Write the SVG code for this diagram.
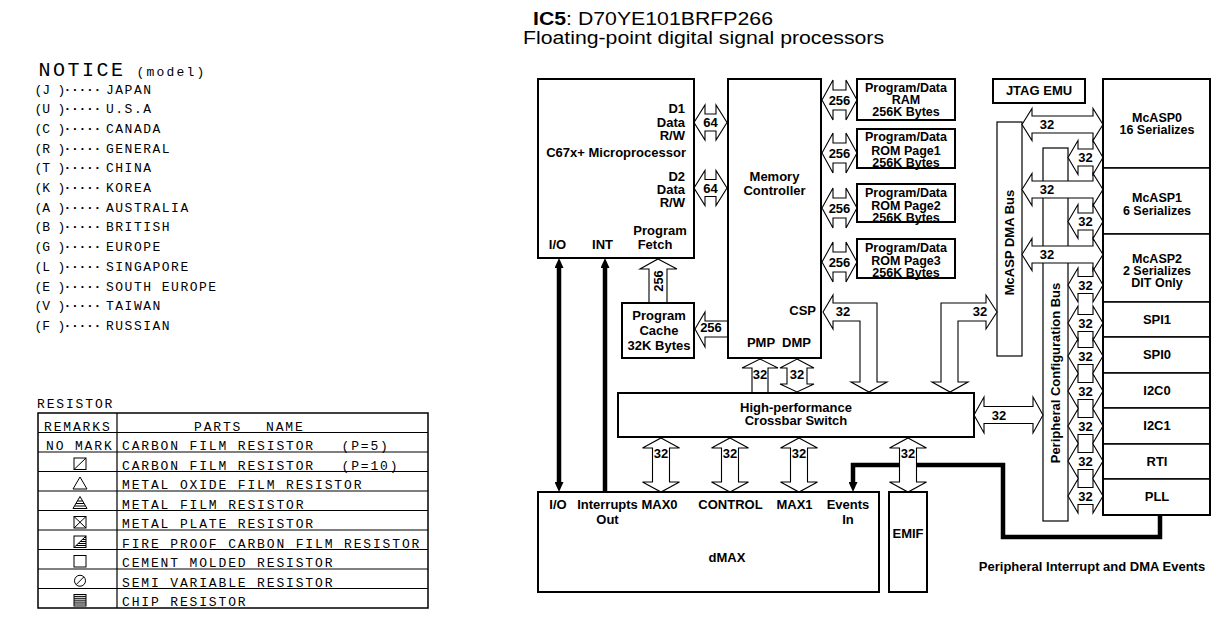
<svg xmlns="http://www.w3.org/2000/svg" width="1212" height="624" viewBox="0 0 1212 624">
<style>
.box{fill:#fff;stroke:#000;stroke-width:2}
.bar{fill:#fff;stroke:#000;stroke-width:1.2}
.row{fill:#fff;stroke:#000;stroke-width:1.5}
.frame{fill:none;stroke:#000;stroke-width:2}
.arr{fill:#fff;stroke:#000;stroke-width:1.1;stroke-linejoin:miter}
.thick{fill:none;stroke:#000;stroke-width:4.5;stroke-linejoin:miter}
.t{font-family:"Liberation Sans",Arial,Helvetica,sans-serif;font-weight:bold;font-size:13px;fill:#000}
.s{font-size:12.5px}
.m{text-anchor:middle}
.e{text-anchor:end}
.ttl{font-family:"Liberation Sans",Arial,Helvetica,sans-serif;font-size:17.5px;fill:#000}
.cad{font-family:"Liberation Mono","DejaVu Sans Mono",monospace;fill:#000}
.c1{font-size:13px;letter-spacing:1.5px}
.cp{font-size:13px;letter-spacing:-0.1px}
.cd{font-size:13px;letter-spacing:-0.3px;font-weight:bold}
.tb{font-size:13px;letter-spacing:1.85px}
.ln{stroke:#000;stroke-width:1.2;fill:none}
.sym{fill:none;stroke:#000;stroke-width:1}
</style>
<defs>
<marker id="tip" viewBox="0 0 10 9" refX="0" refY="4.5" markerWidth="10" markerHeight="9" markerUnits="userSpaceOnUse" orient="auto-start-reverse"><path d="M0,0 L10,4.5 L0,9 Z" fill="#000"/></marker>
<polygon id="sa" class="arr" points="0,0 10,-17 10,-8.5 25,-8.5 25,-17 35,0 25,17 25,8.5 10,8.5 10,17"/>
<polygon id="la" class="arr" points="0,0 10,-16 10,-8.5 71,-8.5 71,-16 81,0 71,16 71,8.5 10,8.5 10,16"/>
<polygon id="a256" class="arr" points="0,0 11,-20 11,-10 24,-10 24,-20 35,0 24,20 24,10 11,10 11,20"/>
<polygon id="a64" class="arr" points="0,0 11,-17.5 11,-8.5 22,-8.5 22,-17.5 33,0 22,17.5 22,8.5 11,8.5 11,17.5"/>
<polygon id="v32" class="arr" points="0,0 18.5,10 8.5,10 8.5,44 18.5,44 0,54 -18.5,44 -8.5,44 -8.5,10 -18.5,10"/>
</defs>
<rect width="1212" height="624" fill="#fff"/>

<!-- Notice list -->
<g id="notice">
<text class="cad" x="38.5" y="76" style="font-size:20px;letter-spacing:2.5px">NOTICE</text>
<text class="cad" x="136.5" y="76" style="font-size:13px;letter-spacing:2.2px">(model)</text>
<text class="cad c1" y="93.5"><tspan class="cp" x="34.5">(J )</tspan><tspan class="cd" x="63.5">·····</tspan><tspan x="106">JAPAN</tspan></text>
<text class="cad c1" y="113.2"><tspan class="cp" x="34.5">(U )</tspan><tspan class="cd" x="63.5">·····</tspan><tspan x="106">U.S.A</tspan></text>
<text class="cad c1" y="132.9"><tspan class="cp" x="34.5">(C )</tspan><tspan class="cd" x="63.5">·····</tspan><tspan x="106">CANADA</tspan></text>
<text class="cad c1" y="152.6"><tspan class="cp" x="34.5">(R )</tspan><tspan class="cd" x="63.5">·····</tspan><tspan x="106">GENERAL</tspan></text>
<text class="cad c1" y="172.3"><tspan class="cp" x="34.5">(T )</tspan><tspan class="cd" x="63.5">·····</tspan><tspan x="106">CHINA</tspan></text>
<text class="cad c1" y="192"><tspan class="cp" x="34.5">(K )</tspan><tspan class="cd" x="63.5">·····</tspan><tspan x="106">KOREA</tspan></text>
<text class="cad c1" y="211.7"><tspan class="cp" x="34.5">(A )</tspan><tspan class="cd" x="63.5">·····</tspan><tspan x="106">AUSTRALIA</tspan></text>
<text class="cad c1" y="231.4"><tspan class="cp" x="34.5">(B )</tspan><tspan class="cd" x="63.5">·····</tspan><tspan x="106">BRITISH</tspan></text>
<text class="cad c1" y="251.1"><tspan class="cp" x="34.5">(G )</tspan><tspan class="cd" x="63.5">·····</tspan><tspan x="106">EUROPE</tspan></text>
<text class="cad c1" y="270.8"><tspan class="cp" x="34.5">(L )</tspan><tspan class="cd" x="63.5">·····</tspan><tspan x="106">SINGAPORE</tspan></text>
<text class="cad c1" y="290.5"><tspan class="cp" x="34.5">(E )</tspan><tspan class="cd" x="63.5">·····</tspan><tspan x="106">SOUTH EUROPE</tspan></text>
<text class="cad c1" y="310.2"><tspan class="cp" x="34.5">(V )</tspan><tspan class="cd" x="63.5">·····</tspan><tspan x="106">TAIWAN</tspan></text>
<text class="cad c1" y="329.9"><tspan class="cp" x="34.5">(F )</tspan><tspan class="cd" x="63.5">·····</tspan><tspan x="106">RUSSIAN</tspan></text>
</g>

<!-- Resistor table -->
<g id="resistor-table">
<text class="cad tb" x="37" y="408">RESISTOR</text>
<rect x="38" y="413" width="390" height="195" fill="none" stroke="#000" stroke-width="1.5"/>
<path class="ln" d="M117,413 V608 M38,432.5 H428 M38,452 H428 M38,471.5 H428 M38,491 H428 M38,510.5 H428 M38,530 H428 M38,549.5 H428 M38,569 H428 M38,588.5 H428"/>
<text class="cad tb" x="44" y="430.5">REMARKS</text>
<text class="cad tb" y="430.5"><tspan x="194">PARTS</tspan><tspan x="266">NAME</tspan></text>
<text class="cad tb" x="46" y="450">NO MARK</text>
<text class="cad tb" y="450"><tspan x="122">CARBON FILM RESISTOR</tspan><tspan x="341.5">(P=5)</tspan></text>
<text class="cad tb" y="469.5"><tspan x="122">CARBON FILM RESISTOR</tspan><tspan x="341.5">(P=10)</tspan></text>
<text class="cad tb" x="122" y="489">METAL OXIDE FILM RESISTOR</text>
<text class="cad tb" x="122" y="508.5">METAL FILM RESISTOR</text>
<text class="cad tb" x="122" y="528">METAL PLATE RESISTOR</text>
<text class="cad tb" x="122" y="547.5">FIRE PROOF CARBON FILM RESISTOR</text>
<text class="cad tb" x="122" y="567">CEMENT MOLDED RESISTOR</text>
<text class="cad tb" x="122" y="586.5">SEMI VARIABLE RESISTOR</text>
<text class="cad tb" x="122" y="606">CHIP RESISTOR</text>
<!-- symbols -->
<rect class="sym" x="74" y="458" width="12" height="11.5"/>
<path class="sym" d="M74,469.5 L86,458"/>
<polygon class="sym" points="80,477 73,489 87,489"/>
<polygon class="sym" points="80,496.5 73,508.5 87,508.5"/>
<path class="sym" d="M74.5,506 H85.5 M75.9,503.5 H84.1 M77.4,501 H82.6"/>
<rect class="sym" x="74" y="516.5" width="12" height="11.5"/>
<path class="sym" d="M74,528 L86,516.5 M74,516.5 L86,528"/>
<rect class="sym" x="74" y="536" width="12" height="11.5"/>
<path class="sym" d="M74,547.5 L86,536 M76.1,545.5 H86 M78.2,543.5 H86 M80.3,541.5 H86 M82.3,539.5 H86 M84.4,537.5 H86"/>
<rect class="sym" x="74" y="555.5" width="12" height="11.5"/>
<circle class="sym" cx="80" cy="580.75" r="5.5"/>
<path class="sym" d="M76.1,584.65 L83.9,576.85"/>
<rect class="sym" x="74" y="594.5" width="12" height="11.5"/>
<path class="sym" d="M74,596.4 H86 M74,598.3 H86 M74,600.2 H86 M74,602.1 H86 M74,604 H86"/>
</g>

<!-- Title -->
<g id="title">
<text class="ttl" x="533" y="25" textLength="240" lengthAdjust="spacingAndGlyphs"><tspan font-weight="bold">IC5</tspan>: D70YE101BRFP266</text>
<text class="ttl" x="523" y="44" textLength="361" lengthAdjust="spacingAndGlyphs">Floating-point digital signal processors</text>
</g>

<!-- Buses (drawn beneath connectors) -->
<g id="node-mcasp-dma-bus">
<rect class="bar" x="997" y="122" width="25" height="234"/>
<text class="t m" transform="translate(1014,242.5) rotate(-90)">McASP DMA Bus</text>
</g>
<g id="node-periph-config-bus">
<rect class="bar" x="1043" y="148" width="25" height="373"/>
<text class="t m" transform="translate(1060,373) rotate(-90)">Peripheral Configuration Bus</text>
</g>

<!-- Connectors -->
<g id="connectors">
<path class="thick" d="M559,268 V482" marker-start="url(#tip)" marker-end="url(#tip)"/>
<path class="thick" d="M605,268 V493" marker-start="url(#tip)"/>
<path class="thick" d="M1160,514 V537 H1003 V465 H853 V482" marker-end="url(#tip)"/>

<use href="#a64" x="694" y="122.5"/>
<use href="#a64" x="694" y="188"/>
<text class="t m" x="710.5" y="127">64</text>
<text class="t m" x="710.5" y="192.5">64</text>

<use href="#a256" x="822" y="100"/>
<use href="#a256" x="822" y="153"/>
<use href="#a256" x="822" y="208"/>
<use href="#a256" x="822" y="262"/>
<text class="t m" x="839.5" y="104.5">256</text>
<text class="t m" x="839.5" y="157.5">256</text>
<text class="t m" x="839.5" y="212.5">256</text>
<text class="t m" x="839.5" y="266.5">256</text>

<polygon class="arr" points="658,259 677,269 667,269 667,303 649,303 649,269 640,269"/>
<text class="t m" transform="translate(663,281) rotate(-90)">256</text>
<polygon class="arr" points="695,329 705,312 705,321 728,321 728,337 705,337 705,347"/>
<text class="t m" x="711" y="332">256</text>

<polygon class="arr" points="823,312 833,295 833,303 877,303 877,382 887,382 869,392 851,382 860,382 860,321 833,321 833,329"/>
<text class="t m" x="843" y="316">32</text>
<polygon class="arr" points="997,312 986,295 986,303 941,303 941,382 932,382 950,392 968,382 958,382 958,321 986,321 986,329"/>
<text class="t m" x="980" y="316">32</text>

<polygon class="arr" points="760,359 778,368 768,368 768,393 752,393 752,368 742,368"/>
<text class="t m" x="760" y="379">32</text>
<polygon class="arr" points="797,359 814,368 807,368 807,384 814,384 797,392 780,384 787,384 787,368 780,368"/>
<text class="t m" x="797" y="379">32</text>

<polygon class="arr" points="974,415 984,397 984,406.5 1033,406.5 1033,397 1043,415 1033,433 1033,423.5 984,423.5 984,433"/>
<text class="t m" x="999" y="420">32</text>

<use href="#v32" x="661" y="438"/>
<use href="#v32" x="730" y="438"/>
<use href="#v32" x="799" y="438"/>
<use href="#v32" x="908" y="438"/>
<text class="t m" x="661" y="458">32</text>
<text class="t m" x="730" y="458">32</text>
<text class="t m" x="799" y="458">32</text>
<text class="t m" x="908" y="458">32</text>

<use href="#la" x="1022" y="124.5"/>
<use href="#la" x="1022" y="189.5"/>
<use href="#la" x="1022" y="254.5"/>
<text class="t m" x="1047" y="129">32</text>
<text class="t m" x="1047" y="194">32</text>
<text class="t m" x="1047" y="259">32</text>

<use href="#sa" x="1068" y="157.5"/>
<use href="#sa" x="1068" y="221.5"/>
<use href="#sa" x="1068" y="285"/>
<use href="#sa" x="1068" y="323"/>
<use href="#sa" x="1068" y="356"/>
<use href="#sa" x="1068" y="391"/>
<use href="#sa" x="1068" y="426"/>
<use href="#sa" x="1068" y="461"/>
<use href="#sa" x="1068" y="496"/>
<text class="t m" x="1085.5" y="162">32</text>
<text class="t m" x="1085.5" y="226">32</text>
<text class="t m" x="1085.5" y="289.5">32</text>
<text class="t m" x="1085.5" y="327.5">32</text>
<text class="t m" x="1085.5" y="360.5">32</text>
<text class="t m" x="1085.5" y="395.5">32</text>
<text class="t m" x="1085.5" y="430.5">32</text>
<text class="t m" x="1085.5" y="465.5">32</text>
<text class="t m" x="1085.5" y="500.5">32</text>
</g>

<!-- Nodes -->
<g id="node-c67x">
<rect class="box" x="538" y="79" width="156" height="179"/>
<text class="t e" x="685" y="113">D1</text>
<text class="t e" x="685" y="126.5">Data</text>
<text class="t e" x="685" y="140">R/W</text>
<text class="t e" x="686" y="157">C67x+ Microprocessor</text>
<text class="t e" x="685" y="181">D2</text>
<text class="t e" x="685" y="194">Data</text>
<text class="t e" x="685" y="207">R/W</text>
<text class="t m" x="660" y="235">Program</text>
<text class="t m" x="655" y="249">Fetch</text>
<text class="t m" x="557.5" y="249">I/O</text>
<text class="t m" x="602.5" y="249">INT</text>
</g>
<g id="node-memctrl">
<rect class="box" x="728" y="79" width="93" height="279"/>
<text class="t m" x="774.5" y="181">Memory</text>
<text class="t m" x="774.5" y="195">Controller</text>
<text class="t e" x="816" y="315">CSP</text>
<text class="t m" x="761" y="347">PMP</text>
<text class="t m" x="796.5" y="347">DMP</text>
</g>
<g id="node-ram">
<rect class="box" x="857" y="79" width="98" height="41"/>
<text class="t s m" x="906" y="92">Program/Data</text>
<text class="t s m" x="906" y="104">RAM</text>
<text class="t s m" x="906" y="116">256K Bytes</text>
</g>
<g id="node-rom1">
<rect class="box" x="857" y="129" width="98" height="39"/>
<text class="t s m" x="906" y="141">Program/Data</text>
<text class="t s m" x="906" y="154.5">ROM  Page1</text>
<text class="t s m" x="906" y="167">256K Bytes</text>
</g>
<g id="node-rom2">
<rect class="box" x="857" y="184" width="98" height="38"/>
<text class="t s m" x="906" y="196.5">Program/Data</text>
<text class="t s m" x="906" y="209.5">ROM  Page2</text>
<text class="t s m" x="906" y="222">256K Bytes</text>
</g>
<g id="node-rom3">
<rect class="box" x="857" y="239" width="98" height="39"/>
<text class="t s m" x="906" y="251.5">Program/Data</text>
<text class="t s m" x="906" y="264.5">ROM  Page3</text>
<text class="t s m" x="906" y="277">256K Bytes</text>
</g>
<g id="node-cache">
<rect class="box" x="622" y="303" width="72" height="55"/>
<text class="t m" x="659" y="320">Program</text>
<text class="t m" x="659" y="335">Cache</text>
<text class="t m" x="659" y="350">32K Bytes</text>
</g>
<g id="node-jtag">
<rect class="box" x="993" y="79" width="92" height="24"/>
<text class="t m" x="1039" y="95">JTAG EMU</text>
</g>
<g id="node-crossbar">
<rect class="box" x="618" y="393" width="356" height="44"/>
<text class="t m" x="796" y="412">High-performance</text>
<text class="t m" x="796" y="425">Crossbar Switch</text>
</g>
<g id="node-dmax">
<rect class="box" x="538" y="492" width="341" height="100"/>
<text class="t m" x="558" y="509">I/O</text>
<text class="t m" x="607.5" y="509">Interrupts</text>
<text class="t m" x="607.5" y="524">Out</text>
<text class="t m" x="659.5" y="509">MAX0</text>
<text class="t m" x="730.5" y="509">CONTROL</text>
<text class="t m" x="794.5" y="509">MAX1</text>
<text class="t m" x="848" y="509">Events</text>
<text class="t m" x="848" y="524">In</text>
<text class="t m" x="727" y="562">dMAX</text>
</g>
<g id="node-emif">
<rect class="box" x="889" y="492" width="38" height="100"/>
<text class="t m" x="908" y="538">EMIF</text>
</g>
<g id="node-mcasp0">
<rect class="row" x="1103" y="79" width="107" height="89"/>
<text class="t s m" x="1157" y="122">McASP0</text>
<text class="t s m" x="1157" y="134">16 Serializes</text>
</g>
<g id="node-mcasp1">
<rect class="row" x="1103" y="168" width="107" height="66"/>
<text class="t s m" x="1157" y="202">McASP1</text>
<text class="t s m" x="1157" y="215">6 Serializes</text>
</g>
<g id="node-mcasp2">
<rect class="row" x="1103" y="234" width="107" height="68"/>
<text class="t s m" x="1157" y="263">McASP2</text>
<text class="t s m" x="1157" y="275">2 Serializes</text>
<text class="t s m" x="1157" y="287">DIT Only</text>
</g>
<g id="node-spi1">
<rect class="row" x="1103" y="302" width="107" height="35"/>
<text class="t m" x="1157" y="324">SPI1</text>
</g>
<g id="node-spi0">
<rect class="row" x="1103" y="337" width="107" height="36"/>
<text class="t m" x="1157" y="359">SPI0</text>
</g>
<g id="node-i2c0">
<rect class="row" x="1103" y="373" width="107" height="35"/>
<text class="t m" x="1157" y="395">I2C0</text>
</g>
<g id="node-i2c1">
<rect class="row" x="1103" y="408" width="107" height="36"/>
<text class="t m" x="1157" y="430">I2C1</text>
</g>
<g id="node-rti">
<rect class="row" x="1103" y="444" width="107" height="35"/>
<text class="t m" x="1157" y="466">RTI</text>
</g>
<g id="node-pll">
<rect class="row" x="1103" y="479" width="107" height="36"/>
<text class="t m" x="1157" y="501">PLL</text>
</g>
<rect class="frame" x="1103" y="79" width="107" height="436"/>
<g id="label-periph-events">
<text class="t m" x="1092" y="571">Peripheral Interrupt and DMA Events</text>
</g>
</svg>
